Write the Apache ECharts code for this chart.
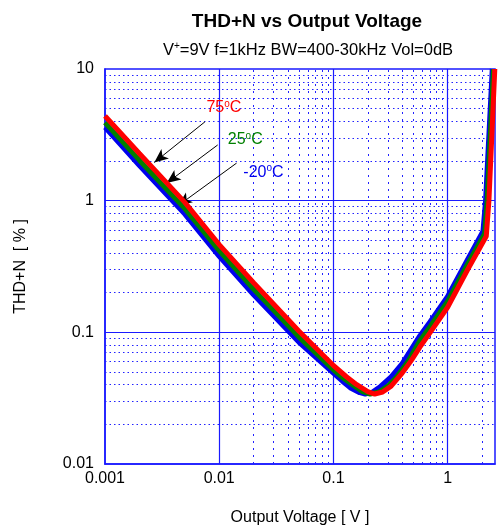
<!DOCTYPE html>
<html><head><meta charset="utf-8">
<script src="https://cdn.jsdelivr.net/npm/echarts@6/dist/echarts.min.js"></script>
<style>html,body{margin:0;padding:0;background:#fff}#c{width:498px;height:531px}</style>
</head><body><div id="c"></div>
<script>
// ---- data ----
const xTickLabels = ['0.001', '0.01', '0.1', '1'];
const yTickLabels = ['0.01', '0.1', '1', '10'];

const x75 = [0.001, 0.002, 0.005, 0.01, 0.02, 0.05, 0.1, 0.13, 0.16, 0.2, 0.23, 0.27, 0.32, 0.4, 0.48, 0.57, 0.7, 1.0, 1.5, 2.18, 2.3, 2.59];
const y75 = [4.4, 2.28, 0.97, 0.464, 0.238, 0.102, 0.056, 0.046, 0.040, 0.0355, 0.034, 0.0352, 0.039, 0.049, 0.061, 0.077, 0.099, 0.155, 0.30, 0.537, 1.0, 10];

const x25 = [0.001, 0.002, 0.005, 0.01, 0.02, 0.05, 0.1, 0.12, 0.15, 0.18, 0.21, 0.25, 0.3, 0.36, 0.45, 0.57, 0.7, 1.0, 1.5, 2.11, 2.22, 2.52];
const y25 = [3.92, 2.03, 0.87, 0.418, 0.213, 0.092, 0.052, 0.0455, 0.0395, 0.0355, 0.034, 0.0352, 0.039, 0.046, 0.06, 0.086, 0.11, 0.172, 0.33, 0.56, 1.0, 10];

const xm20 = [0.001, 0.002, 0.005, 0.01, 0.02, 0.05, 0.1, 0.12, 0.14, 0.17, 0.19, 0.22, 0.26, 0.32, 0.4, 0.57, 0.7, 1.0, 1.5, 2.04, 2.15, 2.46];
const ym20 = [3.6, 1.85, 0.79, 0.377, 0.193, 0.084, 0.049, 0.0425, 0.038, 0.0348, 0.034, 0.0352, 0.039, 0.046, 0.058, 0.094, 0.12, 0.187, 0.36, 0.586, 1.0, 10];

// annotation labels and arrows (data coordinates)
const labelNames = ['75', '25', '-20'];
const labelAt = [[0.011, 5.07], [0.0169, 2.9], [0.0244, 1.63]];
const arrowFrom = [[0.0075, 3.97], [0.0097, 2.65], [0.0142, 1.93]];
const arrowTo = [[0.0027, 1.95], [0.00347, 1.36], [0.00437, 0.917]];

// ---- build ----
const zip = (a, b) => a.map((v, i) => [v, b[i]]);
const decadesX = [0.001, 0.01, 0.1, 1];
const decadesY = [0.01, 0.1, 1, 10];
const xMax = 2.6;
const minorX = [], minorY = [];
decadesX.forEach(d => { for (let k = 2; k <= 9; k++) { const v = +(d * k).toPrecision(3); if (v < xMax) minorX.push(v); } });
decadesY.slice(0, 3).forEach(d => { for (let k = 2; k <= 9; k++) minorY.push(+(d * k).toPrecision(3)); });

const colors = ['#ff0000', '#008000', '#0000ee'];
const gridBlue = '#1a1aff';
const font = 'Liberation Sans, Arial, sans-serif';

function tempSeries(name, xs, ys, color, idx) {
  return {
    name, type: 'line', data: zip(xs, ys), showSymbol: false, symbol: 'none',
    lineStyle: { color, width: 5 }, z: 5 + (2 - idx),
    markPoint: {
      silent: true, symbol: 'circle', symbolSize: 0,
      data: [{ coord: labelAt[idx], value: labelNames[idx] }],
      label: {
        show: true, position: 'inside', color, fontFamily: font, fontSize: 16,
        formatter: p => p.value + '{s|o}C',
        rich: { s: { fontSize: 10, verticalAlign: 'top', padding: [0, 0, 8, 0], color, fontFamily: font } }
      }
    },
    markLine: {
      silent: true, symbol: ['none', 'arrow'], symbolSize: [9, 14],
      lineStyle: { color: '#000', width: 1, type: 'solid' },
      label: { show: false },
      data: [[{ coord: arrowFrom[idx] }, { coord: arrowTo[idx] }]]
    }
  };
}

const chart = echarts.init(document.getElementById('c'), null, { renderer: 'canvas' });
chart.setOption({
  animation: false,
  backgroundColor: '#fff',
  title: [
    { text: 'THD+N vs Output Voltage', left: 302, top: 7, textAlign: 'center',
      textStyle: { fontFamily: font, fontSize: 19, fontWeight: 'bold', color: '#000' } },
    { text: 'V{s|+}=9V f=1kHz BW=400-30kHz Vol=0dB', left: 303, top: 36, textAlign: 'center',
      textStyle: { fontFamily: font, fontSize: 16.5, fontWeight: 'normal', color: '#000',
        rich: { s: { fontSize: 10, verticalAlign: 'top', padding: [0, 0, 8, 0], fontFamily: font, color: '#000' } } } }
  ],
  grid: { left: 105, right: 3, top: 69, bottom: 65, show: true, borderColor: gridBlue, borderWidth: 1.5, backgroundColor: 'transparent' },
  xAxis: {
    type: 'log', logBase: 10, min: 0.001, max: xMax,
    name: 'Output Voltage [ V ]', nameLocation: 'middle', nameGap: 46,
    nameTextStyle: { fontFamily: font, fontSize: 16, color: '#000' },
    axisLine: { show: true, lineStyle: { color: gridBlue, width: 1.5 } },
    axisTick: { show: false },
    axisLabel: { fontFamily: font, fontSize: 16, color: '#000', margin: 7, showMaxLabel: false,
      formatter: v => { const i = decadesX.findIndex(d => Math.abs(d - v) / d < 1e-6); return i >= 0 ? xTickLabels[i] : ''; } },
    splitLine: { show: false }
  },
  yAxis: {
    type: 'log', logBase: 10, min: 0.01, max: 10,
    name: 'THD+N  [ % ]', nameLocation: 'middle', nameGap: 76, nameRotate: 90,
    nameTextStyle: { fontFamily: font, fontSize: 16, color: '#000' },
    axisLine: { show: true, lineStyle: { color: gridBlue, width: 1.5 } },
    axisTick: { show: false },
    axisLabel: { fontFamily: font, fontSize: 16, color: '#000', margin: 11,
      formatter: v => { const i = decadesY.findIndex(d => Math.abs(d - v) / d < 1e-6); return i >= 0 ? yTickLabels[i] : ''; } },
    splitLine: { show: false }
  },
  series: [
    {
      name: 'minorGridX', type: 'line', data: [], silent: true, z: 1,
      markLine: {
        silent: true, symbol: 'none', animation: false,
        label: { show: false },
        lineStyle: { color: '#2222ff', width: 1, type: [2, 5] },
        data: minorX.map(v => ({ xAxis: v }))
      }
    },
    {
      name: 'minorGridY', type: 'line', data: [], silent: true, z: 1,
      markLine: {
        silent: true, symbol: 'none', animation: false,
        label: { show: false },
        lineStyle: { color: '#2222ff', width: 1, type: [1.5, 3] },
        data: minorY.map(v => ({ yAxis: v }))
      }
    },
    {
      name: 'majorGrid', type: 'line', data: [], silent: true, z: 2,
      markLine: {
        silent: true, symbol: 'none', animation: false,
        label: { show: false },
        lineStyle: { color: gridBlue, width: 1.2, type: 'solid' },
        data: decadesX.slice(1).map(v => ({ xAxis: v })).concat(decadesY.slice(1, 3).map(v => ({ yAxis: v })))
      }
    },
    tempSeries('-20°C', xm20, ym20, colors[2], 2),
    tempSeries('25°C', x25, y25, colors[1], 1),
    tempSeries('75°C', x75, y75, colors[0], 0)
  ]
});
</script>
</body></html>
